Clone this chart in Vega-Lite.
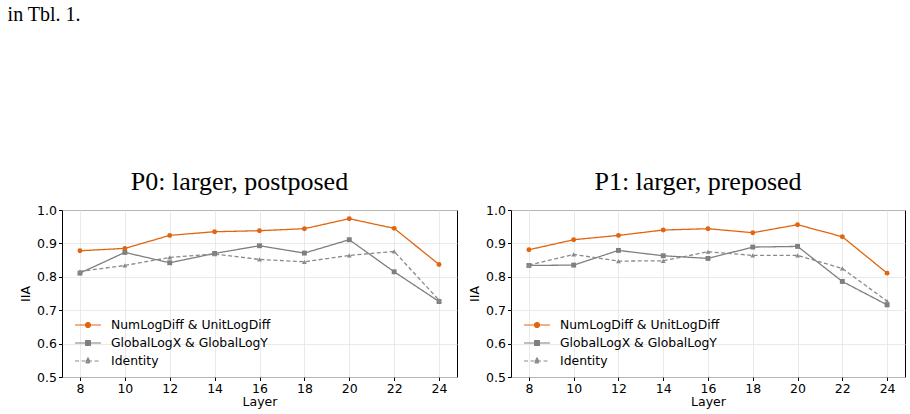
{
  "$schema": "https://vega.github.io/schema/vega-lite/v6.json",
  "padding": {"left": 7, "top": 4, "right": 5, "bottom": 4},
  "background": "white",
  "title": {
    "text": "in Tbl. 1.",
    "anchor": "start",
    "font": "Liberation Serif",
    "fontSize": 20,
    "fontWeight": "normal",
    "color": "#000000",
    "dx": -11.5,
    "offset": 144
  },
  "config": {
    "font": "DejaVu Sans",
    "view": {"stroke": "#000000", "strokeWidth": 1},
    "axis": {
      "labelFont": "DejaVu Sans",
      "labelFontSize": 12.5,
      "labelColor": "#000000",
      "titleFont": "DejaVu Sans",
      "titleFontSize": 12.5,
      "titleFontWeight": "normal",
      "titleColor": "#000000",
      "tickColor": "#000000",
      "tickSize": 3.5,
      "domain": false,
      "grid": true,
      "gridColor": "#e4e4e4",
      "gridWidth": 0.8
    },
    "legend": {
      "labelFont": "DejaVu Sans",
      "labelFontSize": 12.4,
      "labelColor": "#000000",
      "labelLimit": 300,
      "padding": 0
    }
  },
  "datasets": {
    "p0": [
      {"layer": 8, "iia": 0.878, "series": "NumLogDiff & UnitLogDiff"},
      {"layer": 10, "iia": 0.885, "series": "NumLogDiff & UnitLogDiff"},
      {"layer": 12, "iia": 0.924, "series": "NumLogDiff & UnitLogDiff"},
      {"layer": 14, "iia": 0.935, "series": "NumLogDiff & UnitLogDiff"},
      {"layer": 16, "iia": 0.938, "series": "NumLogDiff & UnitLogDiff"},
      {"layer": 18, "iia": 0.944, "series": "NumLogDiff & UnitLogDiff"},
      {"layer": 20, "iia": 0.974, "series": "NumLogDiff & UnitLogDiff"},
      {"layer": 22, "iia": 0.945, "series": "NumLogDiff & UnitLogDiff"},
      {"layer": 24, "iia": 0.837, "series": "NumLogDiff & UnitLogDiff"},
      {"layer": 8, "iia": 0.811, "series": "GlobalLogX & GlobalLogY"},
      {"layer": 10, "iia": 0.873, "series": "GlobalLogX & GlobalLogY"},
      {"layer": 12, "iia": 0.842, "series": "GlobalLogX & GlobalLogY"},
      {"layer": 14, "iia": 0.870, "series": "GlobalLogX & GlobalLogY"},
      {"layer": 16, "iia": 0.893, "series": "GlobalLogX & GlobalLogY"},
      {"layer": 18, "iia": 0.871, "series": "GlobalLogX & GlobalLogY"},
      {"layer": 20, "iia": 0.911, "series": "GlobalLogX & GlobalLogY"},
      {"layer": 22, "iia": 0.815, "series": "GlobalLogX & GlobalLogY"},
      {"layer": 24, "iia": 0.726, "series": "GlobalLogX & GlobalLogY"},
      {"layer": 8, "iia": 0.816, "series": "Identity"},
      {"layer": 10, "iia": 0.834, "series": "Identity"},
      {"layer": 12, "iia": 0.858, "series": "Identity"},
      {"layer": 14, "iia": 0.868, "series": "Identity"},
      {"layer": 16, "iia": 0.852, "series": "Identity"},
      {"layer": 18, "iia": 0.845, "series": "Identity"},
      {"layer": 20, "iia": 0.864, "series": "Identity"},
      {"layer": 22, "iia": 0.876, "series": "Identity"},
      {"layer": 24, "iia": 0.730, "series": "Identity"}
    ],
    "p1": [
      {"layer": 8, "iia": 0.881, "series": "NumLogDiff & UnitLogDiff"},
      {"layer": 10, "iia": 0.911, "series": "NumLogDiff & UnitLogDiff"},
      {"layer": 12, "iia": 0.924, "series": "NumLogDiff & UnitLogDiff"},
      {"layer": 14, "iia": 0.940, "series": "NumLogDiff & UnitLogDiff"},
      {"layer": 16, "iia": 0.944, "series": "NumLogDiff & UnitLogDiff"},
      {"layer": 18, "iia": 0.932, "series": "NumLogDiff & UnitLogDiff"},
      {"layer": 20, "iia": 0.956, "series": "NumLogDiff & UnitLogDiff"},
      {"layer": 22, "iia": 0.920, "series": "NumLogDiff & UnitLogDiff"},
      {"layer": 24, "iia": 0.811, "series": "NumLogDiff & UnitLogDiff"},
      {"layer": 8, "iia": 0.834, "series": "GlobalLogX & GlobalLogY"},
      {"layer": 10, "iia": 0.835, "series": "GlobalLogX & GlobalLogY"},
      {"layer": 12, "iia": 0.879, "series": "GlobalLogX & GlobalLogY"},
      {"layer": 14, "iia": 0.863, "series": "GlobalLogX & GlobalLogY"},
      {"layer": 16, "iia": 0.855, "series": "GlobalLogX & GlobalLogY"},
      {"layer": 18, "iia": 0.889, "series": "GlobalLogX & GlobalLogY"},
      {"layer": 20, "iia": 0.891, "series": "GlobalLogX & GlobalLogY"},
      {"layer": 22, "iia": 0.786, "series": "GlobalLogX & GlobalLogY"},
      {"layer": 24, "iia": 0.716, "series": "GlobalLogX & GlobalLogY"},
      {"layer": 8, "iia": 0.835, "series": "Identity"},
      {"layer": 10, "iia": 0.867, "series": "Identity"},
      {"layer": 12, "iia": 0.847, "series": "Identity"},
      {"layer": 14, "iia": 0.848, "series": "Identity"},
      {"layer": 16, "iia": 0.875, "series": "Identity"},
      {"layer": 18, "iia": 0.864, "series": "Identity"},
      {"layer": 20, "iia": 0.864, "series": "Identity"},
      {"layer": 22, "iia": 0.825, "series": "Identity"},
      {"layer": 24, "iia": 0.727, "series": "Identity"}
    ]
  },
  "spacing": 10,
  "resolve": {"legend": {"color": "independent"}},
  "hconcat": [
    {
      "width": 395,
      "height": 167,
      "title": {"text": "P0: larger, postposed", "font": "Liberation Serif", "fontSize": 26, "fontWeight": "normal", "color": "#000000", "dx": -20, "offset": 9},
      "data": {"name": "p0"},
      "encoding": {
        "x": {"field": "layer", "type": "quantitative", "title": "Layer", "scale": {"domain": [7.2, 24.8], "nice": false, "zero": false}, "axis": {"values": [8, 10, 12, 14, 16, 18, 20, 22, 24], "labelPadding": 1.5, "titlePadding": 1}},
        "y": {"field": "iia", "type": "quantitative", "title": "IIA", "scale": {"domain": [0.5, 1.0], "nice": false, "zero": false}, "axis": {"values": [0.5, 0.6, 0.7, 0.8, 0.9, 1.0], "format": ".1f", "labelPadding": 2, "titlePadding": 4}},
        "color": {
          "field": "series", "type": "nominal",
          "scale": {"domain": ["NumLogDiff & UnitLogDiff", "GlobalLogX & GlobalLogY", "Identity"], "range": ["#e1650f", "#7f7f7f", "#8a8a8a"]},
          "legend": {
            "title": null, "orient": "none", "legendX": 16, "legendY": 105, "symbolSize": 324, "labelOffset": 13, "rowPadding": 1,
            "encode": {"symbols": {"update": {
              "shape": {"signal": "datum.value === 'Identity' ? 'M-1.44,0H1.44M0,-0.33L0.3,0.2L-0.3,0.2Z' : datum.value === 'GlobalLogX & GlobalLogY' ? 'M-1.44,0H1.44M-0.26,-0.26H0.26V0.26H-0.26Z' : 'M-1.44,0H1.44M-0.28,0A0.28,0.28 0 1,0 0.28,0A0.28,0.28 0 1,0 -0.28,0Z'"},
              "fill": {"signal": "datum.value === 'Identity' ? '#8a8a8a' : datum.value === 'GlobalLogX & GlobalLogY' ? '#7f7f7f' : '#e1650f'"},
              "strokeDash": {"signal": "datum.value === 'Identity' ? [4, 2.5] : [1, 0]"},
              "strokeWidth": {"value": 1.2},
              "opacity": {"value": 1}
            }}}
          }
        }
      },
      "layer": [
        {"mark": {"type": "line", "strokeWidth": 1.3},
         "encoding": {"strokeDash": {"field": "series", "type": "nominal", "legend": null, "scale": {"domain": ["NumLogDiff & UnitLogDiff", "GlobalLogX & GlobalLogY", "Identity"], "range": [[1, 0], [1, 0], [4, 2.5]]}}}},
        {"mark": {"type": "point", "filled": true, "size": 24, "opacity": 1},
         "encoding": {"shape": {"field": "series", "type": "nominal", "legend": null, "scale": {"domain": ["NumLogDiff & UnitLogDiff", "GlobalLogX & GlobalLogY", "Identity"], "range": ["circle", "square", "triangle-up"]}}}}
      ]
    },
    {
      "width": 394,
      "height": 167,
      "title": {"text": "P1: larger, preposed", "font": "Liberation Serif", "fontSize": 26, "fontWeight": "normal", "color": "#000000", "dx": -10, "offset": 9},
      "data": {"name": "p1"},
      "encoding": {
        "x": {"field": "layer", "type": "quantitative", "title": "Layer", "scale": {"domain": [7.2, 24.8], "nice": false, "zero": false}, "axis": {"values": [8, 10, 12, 14, 16, 18, 20, 22, 24], "labelPadding": 1.5, "titlePadding": 1}},
        "y": {"field": "iia", "type": "quantitative", "title": "IIA", "scale": {"domain": [0.5, 1.0], "nice": false, "zero": false}, "axis": {"values": [0.5, 0.6, 0.7, 0.8, 0.9, 1.0], "format": ".1f", "labelPadding": 2, "titlePadding": 4}},
        "color": {
          "field": "series", "type": "nominal",
          "scale": {"domain": ["NumLogDiff & UnitLogDiff", "GlobalLogX & GlobalLogY", "Identity"], "range": ["#e1650f", "#7f7f7f", "#8a8a8a"]},
          "legend": {
            "title": null, "orient": "none", "legendX": 16, "legendY": 105, "symbolSize": 324, "labelOffset": 13, "rowPadding": 1,
            "encode": {"symbols": {"update": {
              "shape": {"signal": "datum.value === 'Identity' ? 'M-1.44,0H1.44M0,-0.33L0.3,0.2L-0.3,0.2Z' : datum.value === 'GlobalLogX & GlobalLogY' ? 'M-1.44,0H1.44M-0.26,-0.26H0.26V0.26H-0.26Z' : 'M-1.44,0H1.44M-0.28,0A0.28,0.28 0 1,0 0.28,0A0.28,0.28 0 1,0 -0.28,0Z'"},
              "fill": {"signal": "datum.value === 'Identity' ? '#8a8a8a' : datum.value === 'GlobalLogX & GlobalLogY' ? '#7f7f7f' : '#e1650f'"},
              "strokeDash": {"signal": "datum.value === 'Identity' ? [4, 2.5] : [1, 0]"},
              "strokeWidth": {"value": 1.2},
              "opacity": {"value": 1}
            }}}
          }
        }
      },
      "layer": [
        {"mark": {"type": "line", "strokeWidth": 1.3},
         "encoding": {"strokeDash": {"field": "series", "type": "nominal", "legend": null, "scale": {"domain": ["NumLogDiff & UnitLogDiff", "GlobalLogX & GlobalLogY", "Identity"], "range": [[1, 0], [1, 0], [4, 2.5]]}}}},
        {"mark": {"type": "point", "filled": true, "size": 24, "opacity": 1},
         "encoding": {"shape": {"field": "series", "type": "nominal", "legend": null, "scale": {"domain": ["NumLogDiff & UnitLogDiff", "GlobalLogX & GlobalLogY", "Identity"], "range": ["circle", "square", "triangle-up"]}}}}
      ]
    }
  ]
}
